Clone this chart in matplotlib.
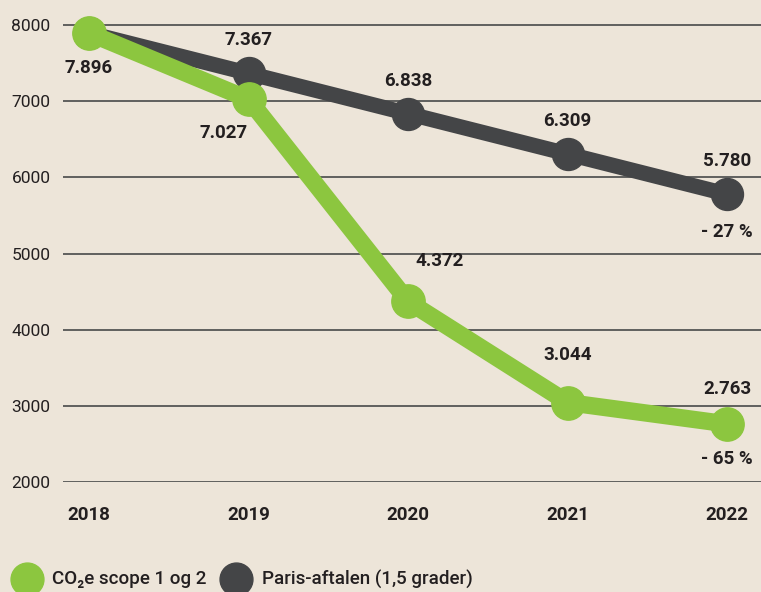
import matplotlib.pyplot as plt

years = [2018, 2019, 2020, 2021, 2022]
co2_values = [7896, 7027, 4372, 3044, 2763]
paris_values = [7896, 7367, 6838, 6309, 5780]
co2_labels = ['7.896', '7.027', '4.372', '3.044', '2.763']
paris_labels = ['', '7.367', '6.838', '6.309', '5.780']
yticks = [2000, 3000, 4000, 5000, 6000, 7000, 8000]

green = '#8cc63f'
dark = '#444547'
bg = '#ede5d9'
txt = '#231f20'

plt.rcParams['font.family'] = ['Roboto', 'DejaVu Sans']

fig = plt.figure(figsize=(7.61, 5.92), dpi=100)
fig.patch.set_facecolor(bg)
ax = fig.add_axes([63 / 761, 110 / 592, 698 / 761, 482 / 592])
ax.set_facecolor('none')

ax.set_xlim(2017.837, 2022.213)
ax.set_ylim(2000, 8330)
for y in yticks:
    ax.axhline(y, color='#555555', lw=1.3, zorder=1)
for s in ax.spines.values():
    s.set_visible(False)
ax.set_yticks(yticks)
ax.set_yticklabels([str(y) for y in yticks], fontsize=12.5, color=txt)
ax.tick_params(axis='y', length=0, pad=9)
ax.set_xticks(years)
ax.set_xticklabels([str(y) for y in years], fontsize=13.5, fontweight='bold', color=txt)
ax.tick_params(axis='x', length=0, pad=17)

ax.plot(years, paris_values, color=dark, lw=11, marker='o', ms=23, zorder=2,
        solid_capstyle='round')
ax.plot(years, co2_values, color=green, lw=12.5, marker='o', ms=24, zorder=3,
        solid_capstyle='round')

lab = dict(fontsize=13.5, fontweight='bold', color=txt, ha='center', va='center', zorder=4)
# Paris labels (above points)
for x, v, t in zip(years[1:], paris_values[1:], paris_labels[1:]):
    ax.annotate(t, (x, v), xytext=(0, 33), textcoords='offset pixels', **lab)
ax.annotate('- 27 %', (2022, 5780), xytext=(0, -38), textcoords='offset pixels', **lab)

# CO2 labels
co2_offsets = [(0, -35), (-25, -34), (32, 40), (0, 48), (0, 35)]
for x, v, t, off in zip(years, co2_values, co2_labels, co2_offsets):
    ax.annotate(t, (x, v), xytext=off, textcoords='offset pixels', **lab)
ax.annotate('- 65 %', (2022, 2763), xytext=(0, -35), textcoords='offset pixels', **lab)

# legend along the bottom edge
lax = fig.add_axes([0, 0, 1, 60 / 592])
lax.set_xlim(0, 761)
lax.set_ylim(0, 60)
lax.axis('off')
lax.scatter([27], [13], s=560, color=green, clip_on=False)
lax.scatter([236], [13], s=560, color=dark, clip_on=False)
lax.text(52, 13, 'CO\u2082e scope 1 og 2', fontsize=13.5, color=txt, va='center',
         fontweight='medium')
lax.text(262, 13, 'Paris-aftalen (1,5 grader)', fontsize=13.5, color=txt, va='center',
         fontweight='medium')

fig.savefig('out.png', dpi=100, facecolor=bg)
